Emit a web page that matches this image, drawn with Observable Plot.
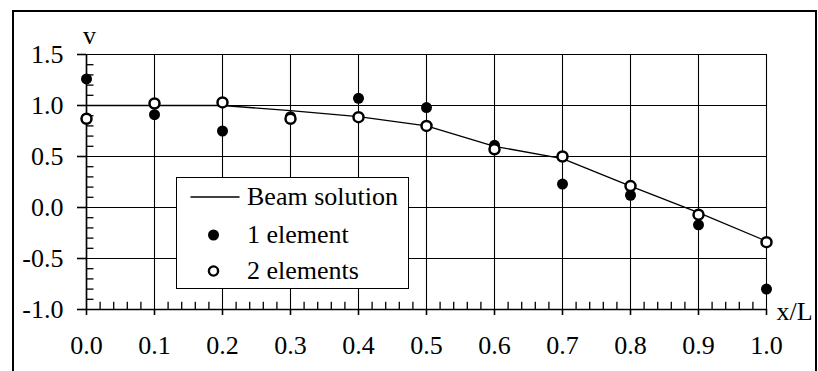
<!DOCTYPE html>
<html>
<head>
<meta charset="utf-8">
<script src="https://cdn.jsdelivr.net/npm/d3@7"></script>
<script src="https://cdn.jsdelivr.net/npm/@observablehq/plot@0.6"></script>
<style>
  html, body { margin: 0; padding: 0; background: #fff; }
  #wrap { position: relative; width: 818px; height: 371px; overflow: hidden; font-family: "Liberation Serif", "Times New Roman", serif; }
  #frame { position: absolute; left: 12px; top: 10px; width: 805px; height: 400px; border: 2px solid #000; box-sizing: border-box; }
  #legend { position: absolute; left: 176px; top: 177px; width: 233px; height: 112px; border: 1.5px solid #000; background: #fff; box-sizing: border-box; font-size: 26px; color: #000; }
  .row { position: absolute; left: 0; height: 30px; width: 230px; }
  .row svg { position: absolute; left: 0; top: 0; display: block; }
  .row span { position: absolute; left: 70px; top: 0; line-height: 30px; white-space: nowrap; }
  #chart svg { display: block; }
</style>
</head>
<body>
<div id="wrap">
  <div id="chart"></div>
  <div id="frame"></div>
  <div id="legend"></div>
</div>
<script>
const xs    = [0.0, 0.1, 0.2, 0.3, 0.4, 0.5, 0.6, 0.7, 0.8, 0.9, 1.0];
const beam  = [1.0, 1.0, 1.0, 0.95, 0.89, 0.80, 0.60, 0.48, 0.21, -0.05, -0.33];
const oneEl = [1.26, 0.91, 0.75, 0.89, 1.07, 0.98, 0.61, 0.23, 0.12, -0.17, -0.80];
const twoEl = [0.87, 1.02, 1.03, 0.87, 0.886, 0.80, 0.57, 0.50, 0.21, -0.07, -0.34];
const xTicks = [0.0, 0.1, 0.2, 0.3, 0.4, 0.5, 0.6, 0.7, 0.8, 0.9, 1.0];
const yTicks = [-1.0, -0.5, 0.0, 0.5, 1.0, 1.5];
const seriesNames = ["Beam solution", "1 element", "2 elements"];
const xLabel = "x/L";
const yLabel = "v";

const minorX = d3.range(1, 50).map(i => i / 50).filter(v => Math.abs(v * 10 - Math.round(v * 10)) > 1e-6);
const minorY = d3.range(-10, 15).map(i => i / 10).filter(v => Math.abs(v * 2 - Math.round(v * 2)) > 1e-6);

const beamData = xs.map((x, i) => ({x, y: beam[i]}));
const oneData = xs.map((x, i) => ({x, y: oneEl[i]}));
const twoData = xs.map((x, i) => ({x, y: twoEl[i]}));

const font = "'Liberation Serif', 'Times New Roman', serif";

const chart = Plot.plot({
  width: 818,
  height: 371,
  marginLeft: 86,
  marginRight: 52,
  marginTop: 54,
  marginBottom: 62,
  style: {fontFamily: font, fontSize: "26px", color: "#000", background: "transparent"},
  x: {domain: [0, 1]},
  y: {domain: [-1, 1.5]},
  marks: [
    Plot.gridX(xTicks, {stroke: "#000", strokeOpacity: 1, strokeWidth: 1.1}),
    Plot.gridY(yTicks, {stroke: "#000", strokeOpacity: 1, strokeWidth: 1.1}),
    Plot.ruleX([0], {y1: -1, y2: 1.5, stroke: "#000", strokeWidth: 1.6}),
    Plot.ruleY([-1], {x1: 0, x2: 1, stroke: "#000", strokeWidth: 1.6}),
    Plot.ruleY(minorY, {x1: 0, x2: 0.011, stroke: "#000", strokeWidth: 1.3}),
    Plot.ruleX(minorX, {y1: -1, y2: -0.93, stroke: "#000", strokeWidth: 1.3}),
    Plot.axisY(yTicks, {anchor: "left", tickSize: 9, tickPadding: 14, tickFormat: d => d.toFixed(1), fontSize: 26, label: null, strokeWidth: 1.6}),
    Plot.axisX(xTicks, {anchor: "bottom", tickSize: 6, tickPadding: 20, tickFormat: d => d.toFixed(1), fontSize: 26, label: null, strokeWidth: 1.6}),
    Plot.text([yLabel], {x: 0, y: 1.5, dx: 3, dy: -19, text: d => d, fontSize: 26, textAnchor: "middle"}),
    Plot.text([xLabel], {x: 1, y: -1, dx: 10, dy: 2, text: d => d, fontSize: 26, textAnchor: "start"}),
    Plot.line(beamData, {x: "x", y: "y", stroke: "#000", strokeWidth: 1.3}),
    Plot.dot(oneData, {x: "x", y: "y", r: 5.5, fill: "#000", stroke: "none"}),
    Plot.dot(twoData, {x: "x", y: "y", r: 5, fill: "#fff", stroke: "#000", strokeWidth: 2.5})
  ]
});
document.getElementById("chart").appendChild(chart);

const legend = document.getElementById("legend");
const swatches = [
  '<svg width="68" height="30"><line x1="13.5" y1="15" x2="62.5" y2="15" stroke="#000" stroke-width="1.3"/></svg>',
  '<svg width="68" height="30"><circle cx="36.5" cy="15" r="5.5" fill="#000"/></svg>',
  '<svg width="68" height="30"><circle cx="36.5" cy="15" r="4.6" fill="#fff" stroke="#000" stroke-width="2.4"/></svg>'
];
const rowTops = [3.5, 41.5, 78];
seriesNames.forEach((name, i) => {
  const row = document.createElement("div");
  row.className = "row";
  row.style.top = rowTops[i] + "px";
  row.innerHTML = swatches[i] + '<span>' + name + '</span>';
  legend.appendChild(row);
});
</script>
</body>
</html>
